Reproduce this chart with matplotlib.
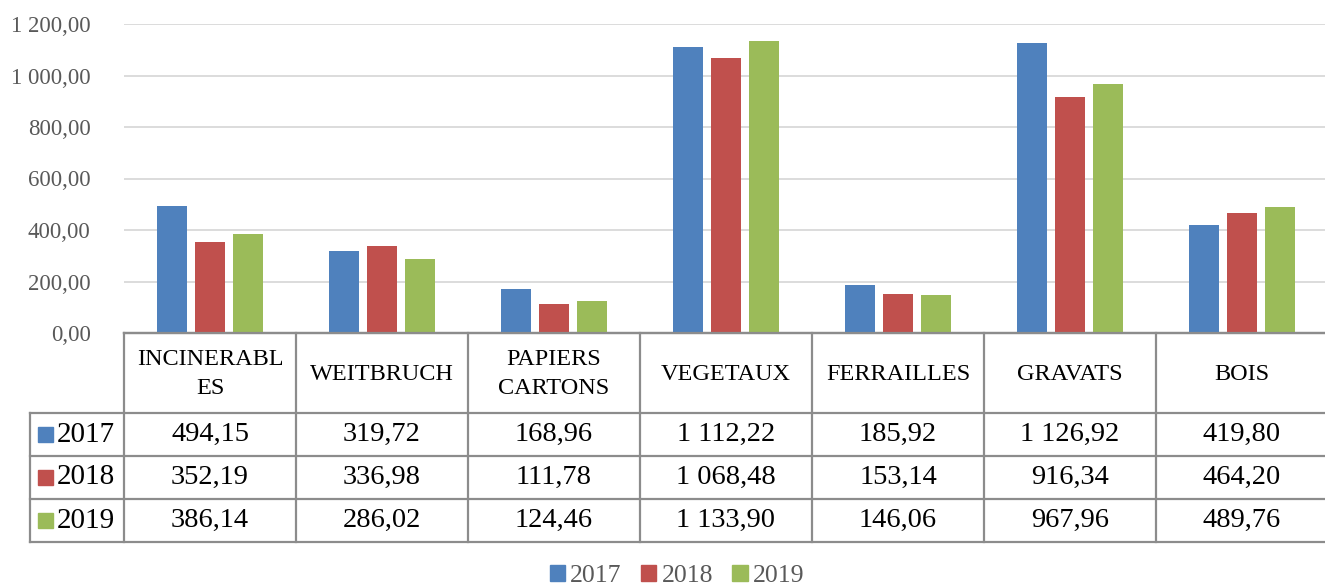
import matplotlib
matplotlib.use("Agg")
import matplotlib.pyplot as plt
from matplotlib.patches import Rectangle
from matplotlib.ticker import FuncFormatter

categories = ["INCINERABL\nES", "WEITBRUCH", "PAPIERS\nCARTONS", "VEGETAUX",
              "FERRAILLES", "GRAVATS", "BOIS"]
years = ["2017", "2018", "2019"]
v2017 = [494.15, 319.72, 168.96, 1112.22, 185.92, 1126.92, 419.80]
v2018 = [352.19, 336.98, 111.78, 1068.48, 153.14, 916.34, 464.20]
v2019 = [386.14, 286.02, 124.46, 1133.90, 146.06, 967.96, 489.76]
y_ticks = [0, 200, 400, 600, 800, 1000, 1200]

colors = ["#4F81BD", "#C0504D", "#9BBB59"]
series = [v2017, v2018, v2019]

FONT = "Liberation Serif"
W, H = 1325, 585
DPI = 100

# layout in pixels
x0, cw = 124, 172          # left of plot / table column width
y_top, y_zero = 24, 333    # 1200 line, 0 line
row_edges = [333, 413, 456, 499, 542]
left_x = 30


def fr(v):
    return f"{v:,.2f}".replace(",", " ").replace(".", ",")


fig = plt.figure(figsize=(W / DPI, H / DPI), dpi=DPI)
fig.patch.set_facecolor("white")

ax = fig.add_axes([x0 / W, (H - y_zero) / H, 7 * cw / W, (y_zero - y_top) / H])
n = len(categories)
bw = 0.175
step = 0.22
for k, vals in enumerate(series):
    xs = [i + (k - 1) * step for i in range(n)]
    ax.bar(xs, vals, width=bw, color=colors[k], zorder=3)

ax.set_xlim(-0.5, n - 0.5)
ax.set_ylim(0, 1200)
ax.set_yticks(y_ticks)
ax.yaxis.set_major_formatter(FuncFormatter(lambda v, p: fr(v)))
ax.set_xticks([])
ax.grid(axis="y", color="#D9D9D9", linewidth=1.3, zorder=0)
for s in ["top", "right", "left"]:
    ax.spines[s].set_visible(False)
ax.spines["bottom"].set_color("#8C8C8C")
ax.spines["bottom"].set_linewidth(1.6)
ax.tick_params(axis="y", length=0, pad=24, labelsize=16.5, labelcolor="#595959")
for lab in ax.get_yticklabels():
    lab.set_fontfamily(FONT)

# data table drawn in pixel coordinates
tab = fig.add_axes([0, 0, 1, 1], facecolor="none")
tab.set_xlim(0, W)
tab.set_ylim(H, 0)
tab.axis("off")
lc, lw = "#8C8C8C", 1.6
right = x0 + n * cw
# horizontal lines
tab.plot([x0, right], [row_edges[0], row_edges[0]], color=lc, lw=lw)
for y in row_edges[1:]:
    tab.plot([left_x, right], [y, y], color=lc, lw=lw)
# vertical lines
for i in range(n + 1):
    x = x0 + i * cw
    tab.plot([x, x], [row_edges[0], row_edges[-1]], color=lc, lw=lw)
tab.plot([left_x, left_x], [row_edges[1], row_edges[-1]], color=lc, lw=lw)

# header
for i, c in enumerate(categories):
    tab.text(x0 + (i + 0.5) * cw, (row_edges[0] + row_edges[1]) / 2 + 1, c,
             ha="center", va="center", fontsize=17.5, family=FONT,
             linespacing=1.5, color="black")
# rows
for k, vals in enumerate(series):
    yc = (row_edges[k + 1] + row_edges[k + 2]) / 2
    tab.add_patch(Rectangle((38, yc - 8), 15, 15, color=colors[k]))
    tab.text(57, yc, years[k], ha="left", va="center", fontsize=21,
             family=FONT, color="black")
    for i, v in enumerate(vals):
        tab.text(x0 + (i + 0.5) * cw, yc, fr(v), ha="center", va="center",
                 fontsize=20.5, family=FONT, color="black")

# legend
handles = [Rectangle((0, 0), 1, 1, color=c) for c in colors]
leg = fig.legend(handles, years, loc="center", ncol=3, frameon=False,
                 bbox_to_anchor=(677 / W, 1 - 576 / H), handlelength=0.6,
                 handleheight=0.6, handletextpad=0.2, columnspacing=0.75,
                 prop={"family": FONT, "size": 18.5})
for t in leg.get_texts():
    t.set_color("#595959")

fig.savefig("out.png", dpi=DPI, facecolor="white")
